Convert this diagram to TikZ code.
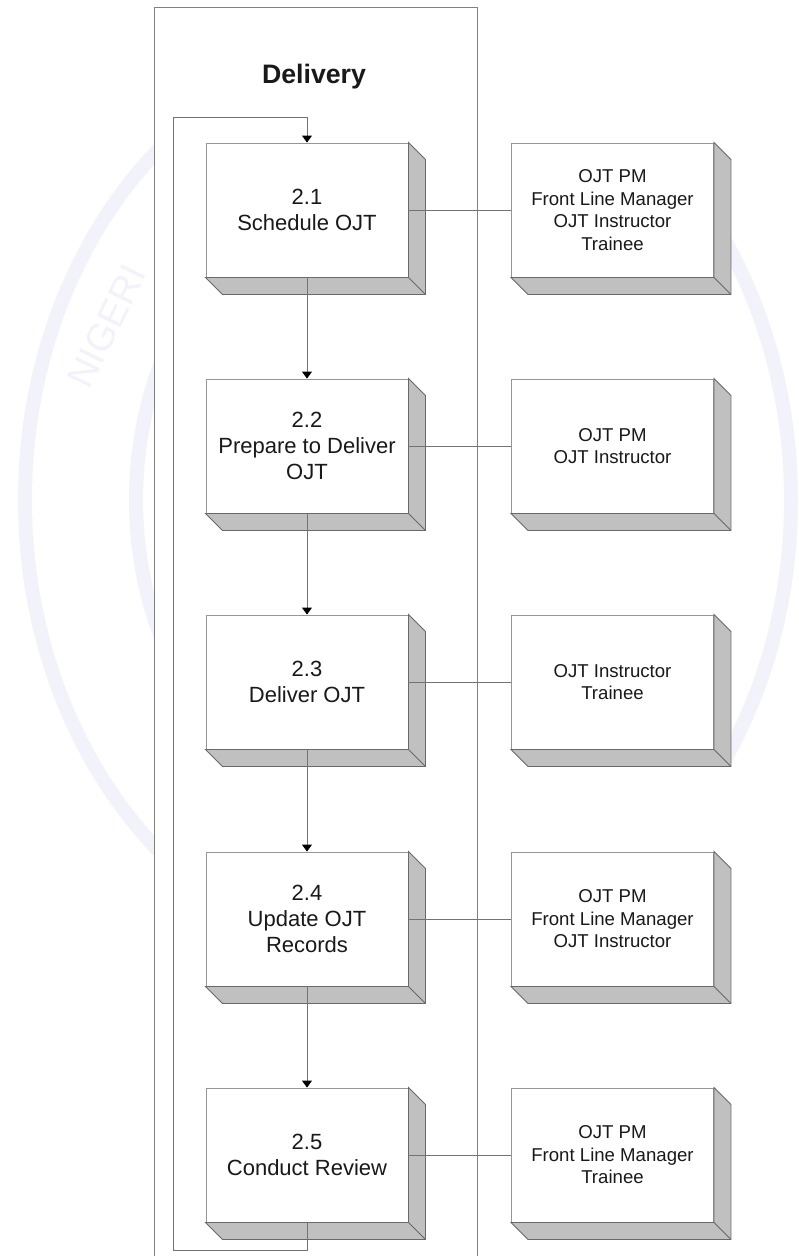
\documentclass[tikz,border=0pt]{standalone}
\usepackage{fontspec}
\setmainfont{Liberation Sans}
\usetikzlibrary{arrows.meta,calc}

\definecolor{wm}{RGB}{242,242,251}
\definecolor{lanegray}{RGB}{128,128,128}
\definecolor{boxedge}{RGB}{150,150,150}
\definecolor{sidefill}{RGB}{192,192,192}
\definecolor{sideedge}{RGB}{105,105,105}
\definecolor{linkgray}{RGB}{115,115,115}
\definecolor{txt}{RGB}{25,25,25}

% grey extruded side and bottom faces of a task box
\newcommand{\boxside}[1]{%
  \filldraw[side] (#1.north east) -- ++(17,17) -- ($(#1.south east)+(17,17)$)
    -- ($(#1.south west)+(17,17)$) -- (#1.south west) -- (#1.south east) -- cycle;
  \draw[side] (#1.south east) -- ++(17,17);
}

\begin{document}
\begin{tikzpicture}[x=1pt,y=-1pt,
  task/.style={draw=boxedge, fill=white, line width=0.9pt,
    minimum width=202pt, minimum height=134pt, inner sep=0pt,
    align=center, text=txt, font=\fontsize{22}{26}\selectfont},
  role/.style={task, font=\fontsize{18.6}{22.5}\selectfont},
  side/.style={fill=sidefill, draw=sideedge, line width=0.9pt, line join=miter},
  link/.style={draw=linkgray, line width=0.9pt},
  flow/.style={link, -{Triangle[width=10pt,length=7pt,color=black]}},
]
\useasboundingbox (0,0) rectangle (799,1256);
\clip (0,0) rectangle (799,1256);

% faint seal in the background
\begin{scope}[draw=wm, line width=14pt]
  \draw (408,500) ellipse [x radius=383, y radius=462];
  \draw (408,500) ellipse [x radius=272, y radius=328];
\end{scope}
\node[text=wm, font=\fontsize{38}{38}\selectfont, rotate=64, anchor=base west]
  (seal) at (88,394) {NIGERI};

% white diagram area
\fill[white] (154,0) rectangle (731,1256);

% swimlane
\draw[lanegray, line width=0.9pt] (154,1262) -- (154,7) -- (477,7) -- (477,1262);
\node[font=\fontsize{26.7}{30}\selectfont\bfseries, text=txt] (title) at (314,77) {Delivery};

% process steps
\node[task] (b1) at (307,210)  {2.1\\Schedule OJT};
\node[task] (b2) at (307,446)  {2.2\\Prepare to Deliver\\OJT};
\node[task] (b3) at (307,682)  {2.3\\Deliver OJT};
\node[task] (b4) at (307,919)  {2.4\\Update OJT\\Records};
\node[task] (b5) at (307,1155) {2.5\\Conduct Review};

% roles involved in each step
\node[role] (r1) at (612.5,210)  {OJT PM\\Front Line Manager\\OJT Instructor\\Trainee};
\node[role] (r2) at (612.5,446)  {OJT PM\\OJT Instructor};
\node[role] (r3) at (612.5,682)  {OJT Instructor\\Trainee};
\node[role] (r4) at (612.5,919)  {OJT PM\\Front Line Manager\\OJT Instructor};
\node[role] (r5) at (612.5,1155) {OJT PM\\Front Line Manager\\Trainee};

\foreach \n in {b1,b2,b3,b4,b5,r1,r2,r3,r4,r5} {\boxside{\n}}

% step to role links
\foreach \i in {1,...,5} {\draw[link] (b\i.east) -- (r\i.west);}

% sequence
\draw[flow] (b1.south) -- (b2.north);
\draw[flow] (b2.south) -- (b3.north);
\draw[flow] (b3.south) -- (b4.north);
\draw[flow] (b4.south) -- (b5.north);

% feedback loop back to the first step
\coordinate (lb) at (173,1250);
\coordinate (lt) at (173,117);
\draw[flow] (b5.south) |- (lb) -- (lt) -| (b1.north);
\end{tikzpicture}
\end{document}
